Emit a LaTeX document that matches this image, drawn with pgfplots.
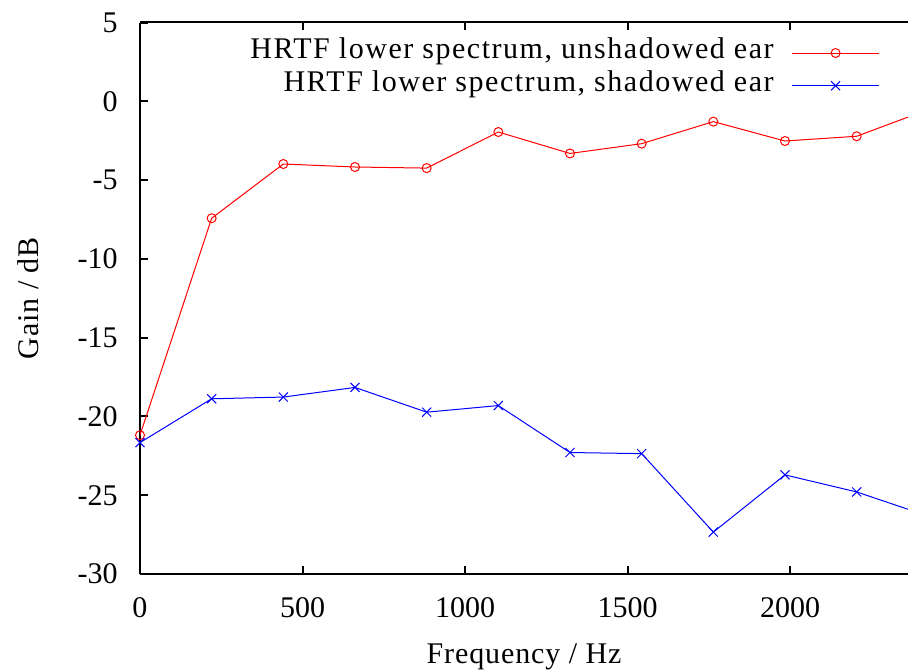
\documentclass[border=0pt]{standalone}
\usepackage{fontspec}
\setmainfont{Liberation Serif}
\newfontfamily\legendfont{Liberation Serif}[LetterSpace=5.1]
\newfontfamily\labelfont{Liberation Serif}[LetterSpace=3]
\usepackage{pgfplots}
\usepackage{pgfplotstable}
\pgfplotsset{compat=1.18}

% HRTF gain of the lower spectrum, bins of 220.5 Hz
\pgfplotstableread{
f       unshadowed shadowed
0       -21.19     -21.66
220.5   -7.42      -18.88
441     -3.98      -18.77
661.5   -4.17      -18.16
882     -4.24      -19.73
1102.5  -1.95      -19.31
1323    -3.31      -22.29
1543.5  -2.69      -22.36
1764    -1.29      -27.34
1984.5  -2.52      -23.71
2205    -2.22      -24.79
2425.5  -0.52      -26.33
}\hrtf

\newcommand{\fs}{\fontsize{15}{18}\selectfont}

\begin{document}
\begin{tikzpicture}[font=\fs]
\pgfplotsset{
  frame/.style={
    scale only axis, width=384pt, height=275.75pt,
    xmin=0, xmax=2363, ymin=-30, ymax=5,
    tick align=inside, major tick length=4pt,
    axis line style={line width=1pt,-},
    every tick/.style={black, line width=1pt},
    tick label style={font=\fs},
  },
}
\begin{axis}[frame, name=main,
  axis lines*=left, clip mode=individual,
  xtick={0,500,1000,1500,2000},
  xticklabels={0,500,1000,1500,2000},
  ytick={-30,-25,-20,-15,-10,-5,0,5},
  yticklabels={-30,-25,-20,-15,-10,-5,0,5},
  xticklabel style={anchor=north, inner sep=0pt, yshift=-11.5pt},
  yticklabel style={anchor=east, inner sep=0pt, xshift=-11pt},
  xlabel={Frequency / Hz},
  xlabel style={font=\labelfont\fs, at={(axis description cs:0.5,-0.1505)}, anchor=center},
  ylabel={Gain / dB},
  ylabel style={font=\labelfont\fs, at={(axis description cs:-0.1458,0.5)}, anchor=center},
  legend plot pos=right,
  legend cell align=right,
  legend image code/.code={
    \draw[mark repeat=2, mark phase=2, #1]
      plot coordinates {(0pt,0pt) (21.75pt,0pt) (43.5pt,0pt)};},
  legend style={font=\legendfont\fs, draw=none, fill=none,
    at={(axis description cs:0.96354,0.975)}, anchor=north east,
    inner sep=0pt, row sep=0pt, column sep=9pt,
    nodes={inner sep=0pt, text height=11pt, text depth=5.35pt}},
]
\addplot[red, line width=0.5pt, mark=o, mark size=2.25pt]
  table[x=f, y=unshadowed]{\hrtf};
\addlegendentry{HRTF lower spectrum, unshadowed ear}
\addplot[blue, line width=0.5pt, mark=x, mark size=3.2pt]
  table[x=f, y=shadowed]{\hrtf};
\addlegendentry{HRTF lower spectrum, shadowed ear}
\coordinate (SW) at (rel axis cs:0,0);
\coordinate (NE) at (rel axis cs:1,1);
\end{axis}
% top border with its own inward ticks
\begin{axis}[frame, axis x line*=top, axis y line=none,
  xtick={500,1000,1500,2000}, xticklabels={}]
\end{axis}
\pgfresetboundingbox
\path[use as bounding box] ([xshift=-70pt,yshift=-48.5pt]SW) rectangle ([yshift=11.25pt]NE);
\end{tikzpicture}
\end{document}
